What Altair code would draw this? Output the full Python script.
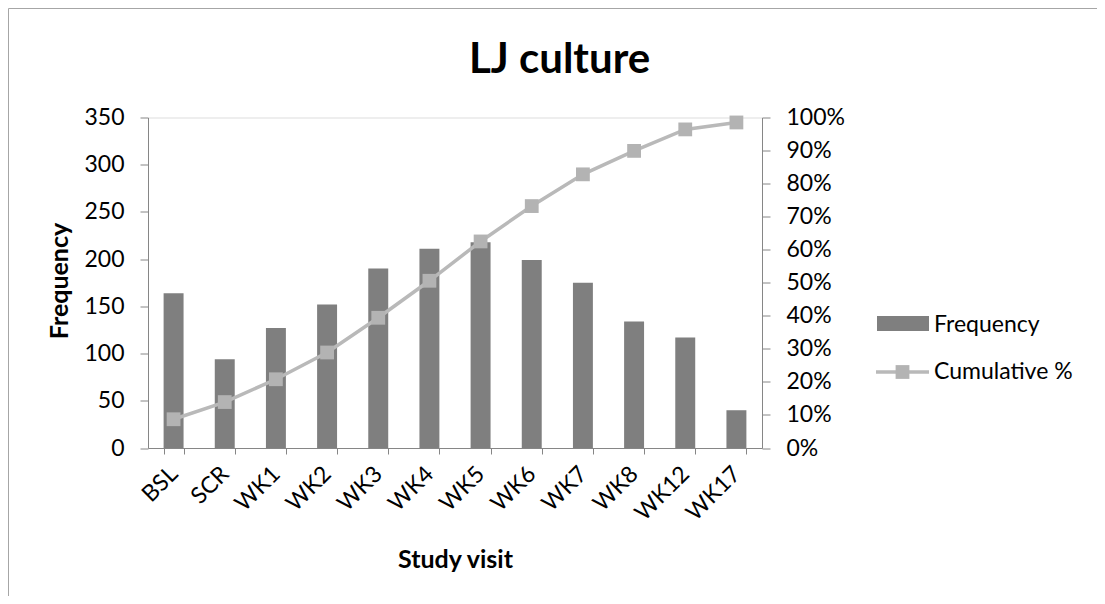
import altair as alt
import pandas as pd

visits = ["BSL", "SCR", "WK1", "WK2", "WK3", "WK4", "WK5", "WK6", "WK7", "WK8", "WK12", "WK17"]
frequency = [164, 94, 127, 152, 190, 211, 218, 199, 175, 134, 117, 40]
cumulative = [0.087, 0.139, 0.208, 0.289, 0.394, 0.506, 0.625, 0.732, 0.828, 0.899, 0.964, 0.985]
legend_labels = ["Frequency", "Cumulative %"]
chart_title = "LJ culture"

df = pd.DataFrame({"visit": visits, "freq": frequency, "cum": cumulative})
one = pd.DataFrame({"k": [0]})

FONT = "Lato"
AX = "#868686"
BAR = "#7f7f7f"
LINE = "#b9b9b9"
MARK = "#b3b3b3"

xenc = alt.X(
    "visit:N", sort=visits,
    scale=alt.Scale(paddingInner=0.61, paddingOuter=0.305),
    axis=alt.Axis(
        title="Study visit", labelAngle=315, labelAlign="right", labelBaseline="middle",
        labelPadding=16, tickBand="extent", tickSize=6, domainColor=AX, tickColor=AX,
        labelFont=FONT, labelFontSize=23, labelColor="black",
        titleFont=FONT, titleFontSize=25, titleFontWeight="bold", titleColor="black",
        titleBaseline="alphabetic", titleY=119, titleX=307,
    ),
)

bars = alt.Chart(df).mark_bar(color=BAR).encode(
    x=xenc,
    y=alt.Y(
        "freq:Q", scale=alt.Scale(domain=[0, 350]),
        axis=alt.Axis(
            title="Frequency", values=[0, 50, 100, 150, 200, 250, 300, 350], grid=False,
            tickSize=8, labelPadding=16, domainColor=AX, tickColor=AX,
            labelFont=FONT, labelFontSize=23, labelColor="black",
            titleFont=FONT, titleFontSize=25, titleFontWeight="bold", titleColor="black",
            titleBaseline="alphabetic", titleX=-81, titleY=163, titleAngle=270,
        ),
    ),
)

line = alt.Chart(df).mark_line(
    color=LINE, strokeWidth=3.5,
    point=alt.OverlayMarkDef(shape="square", size=190, filled=True, color=MARK, opacity=1),
).encode(
    x=alt.X("visit:N", sort=visits),
    y=alt.Y(
        "cum:Q", scale=alt.Scale(domain=[0, 1]),
        axis=alt.Axis(
            title=None, orient="right", format=".0%",
            values=[0, 0.1, 0.2, 0.3, 0.4, 0.5, 0.6, 0.7, 0.8, 0.9, 1.0], grid=False,
            tickSize=8, labelPadding=16, domainColor=AX, tickColor=AX,
            labelFont=FONT, labelFontSize=23, labelColor="black",
        ),
    ),
)

title_text = alt.Chart(one).mark_text(
    text=chart_title, font=FONT, fontSize=42, fontWeight="bold", color="black",
    align="center", baseline="alphabetic",
).encode(x=alt.value(411.5), y=alt.value(-44.5))

leg_bar = alt.Chart(one).mark_rect(color=BAR).encode(
    x=alt.value(729), x2=alt.value(781), y=alt.value(198.5), y2=alt.value(213.5)
)
leg_bar_text = alt.Chart(one).mark_text(
    text=legend_labels[0], font=FONT, fontSize=23, color="black", align="left", baseline="middle"
).encode(x=alt.value(786), y=alt.value(207))
leg_line = alt.Chart(one).mark_rule(color=LINE, strokeWidth=3.5).encode(
    x=alt.value(728), x2=alt.value(781), y=alt.value(254.5)
)
leg_pt = alt.Chart(one).mark_point(shape="square", size=190, filled=True, color=MARK, opacity=1).encode(
    x=alt.value(754.5), y=alt.value(254.5)
)
leg_line_text = alt.Chart(one).mark_text(
    text=legend_labels[1], font=FONT, fontSize=23, color="black", align="left", baseline="middle"
).encode(x=alt.value(786), y=alt.value(254.5))

border_left = alt.Chart(one).mark_rule(color="#a6a6a6", strokeWidth=1).encode(
    x=alt.value(-139.5), y=alt.value(-109), y2=alt.value(480)
)
border_top = alt.Chart(one).mark_rule(color="#a6a6a6", strokeWidth=1).encode(
    x=alt.value(-139.5), x2=alt.value(960), y=alt.value(-109)
)

chart = alt.layer(
    border_left, border_top, bars, line, title_text, leg_bar, leg_bar_text, leg_line, leg_pt, leg_line_text
).resolve_scale(y="independent").properties(
    width=614, height=330.5,
    autosize=alt.AutoSizeParams(type="none"),
    padding={"left": 140, "top": 109.5, "right": 335, "bottom": 148},
).configure_view(stroke=None).configure(background="white")

chart.save("out.html", embed_options={"renderer": "svg", "actions": False})
